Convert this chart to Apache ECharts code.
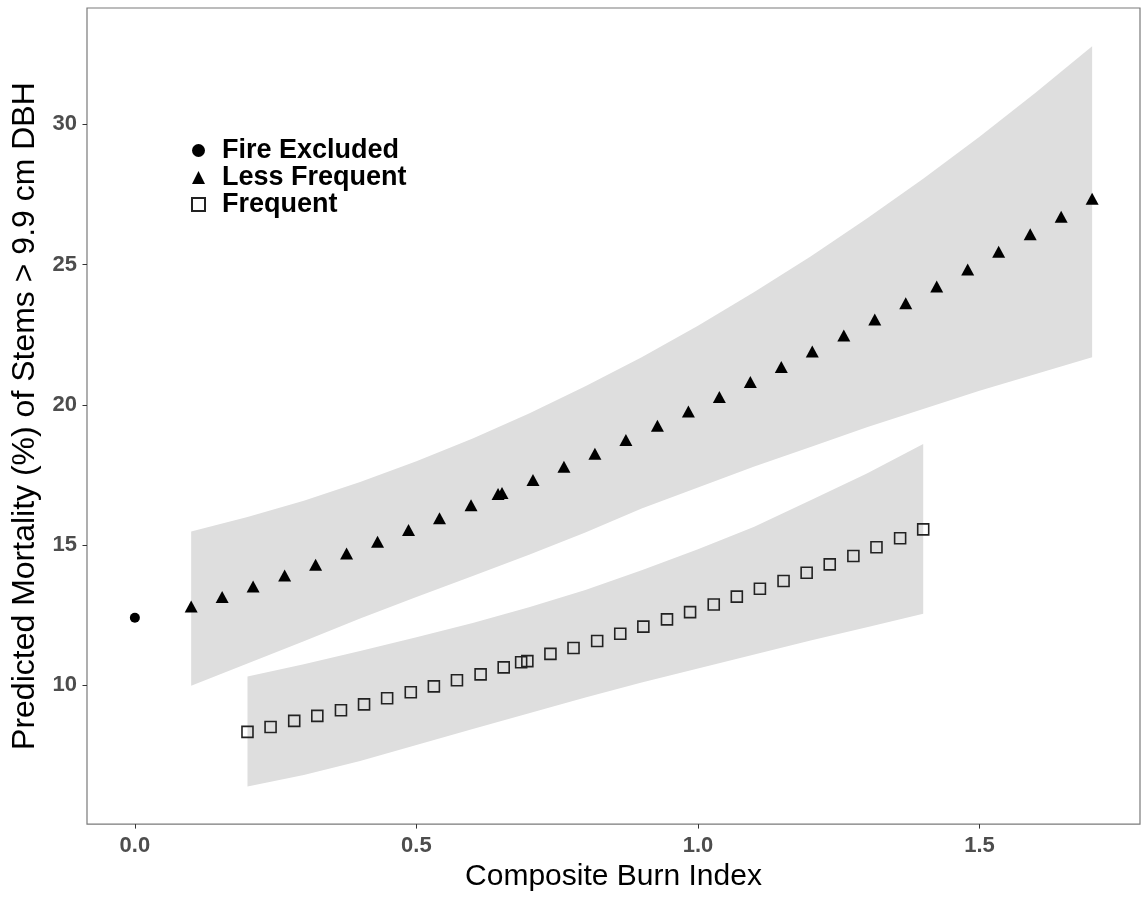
<!DOCTYPE html>
<html><head><meta charset="utf-8">
<script src="https://cdn.jsdelivr.net/npm/echarts@6/dist/echarts.min.js"></script>
<style>html,body{margin:0;padding:0;background:#fff}#c{width:1141px;height:897px}</style>
</head><body><div id="c"></div>
<script>
// ---- data ----
const seriesNames = ['Fire Excluded', 'Less Frequent', 'Frequent'];
const xTicks = [0, 0.5, 1.0, 1.5];
const yTicks = [10, 15, 20, 25, 30];

const fireX = [0];
const fireY = [12.41];

const lessX = [0.100, 0.155, 0.210, 0.266, 0.321, 0.376, 0.431, 0.486, 0.541, 0.597,
               0.652, 0.707, 0.762, 0.817, 0.872, 0.928, 0.983, 1.038, 1.093, 1.148,
               1.203, 1.259, 1.314, 1.369, 1.424, 1.479, 1.534, 1.590, 1.645, 1.700, 0.645];
const lessY = [12.81, 13.15, 13.52, 13.91, 14.30, 14.70, 15.12, 15.54, 15.96, 16.42,
               16.86, 17.32, 17.79, 18.26, 18.75, 19.25, 19.76, 20.28, 20.81, 21.35,
               21.90, 22.47, 23.04, 23.62, 24.22, 24.83, 25.46, 26.08, 26.71, 27.35, 16.82];

const freqX = [0.200, 0.241, 0.283, 0.324, 0.366, 0.407, 0.448, 0.490, 0.531, 0.572,
               0.614, 0.655, 0.697, 0.738, 0.779, 0.821, 0.862, 0.903, 0.945, 0.986,
               1.028, 1.069, 1.110, 1.152, 1.193, 1.234, 1.276, 1.317, 1.359, 1.400, 0.686];
const freqY = [8.34, 8.51, 8.73, 8.91, 9.11, 9.32, 9.54, 9.75, 9.96, 10.18,
               10.39, 10.64, 10.86, 11.12, 11.33, 11.58, 11.84, 12.09, 12.35, 12.61,
               12.88, 13.16, 13.44, 13.72, 14.01, 14.31, 14.61, 14.92, 15.24, 15.56, 10.82];

const lessBandX = [0.1, 0.2, 0.3, 0.4, 0.5, 0.6, 0.7, 0.8, 0.9, 1.0, 1.1, 1.2, 1.3, 1.4, 1.5, 1.6, 1.7];
const lessLower = [9.98, 10.78, 11.57, 12.38, 13.15, 13.90, 14.65, 15.45, 16.30, 17.05, 17.80, 18.50, 19.20, 19.85, 20.50, 21.10, 21.70];
const lessUpper = [15.48, 16.00, 16.58, 17.25, 17.99, 18.80, 19.69, 20.66, 21.70, 22.82, 24.02, 25.29, 26.64, 28.06, 29.56, 31.14, 32.79];

const freqBandX = [0.2, 0.3, 0.4, 0.5, 0.6, 0.7, 0.8, 0.9, 1.0, 1.1, 1.2, 1.3, 1.4];
const freqLower = [6.39, 6.80, 7.30, 7.87, 8.44, 9.00, 9.56, 10.10, 10.60, 11.10, 11.60, 12.07, 12.55];
const freqUpper = [10.31, 10.75, 11.22, 11.71, 12.22, 12.78, 13.40, 14.10, 14.85, 15.65, 16.60, 17.55, 18.60];

// ---- chart ----
const FONT = "'Liberation Sans', Arial, sans-serif";
const zip = (xs, ys) => xs.map((x, i) => [x, ys[i]]);

function bandSeries(xs, lo, hi) {
  return {
    type: 'custom',
    silent: true,
    z: 1,
    data: xs.map((x, i) => [x, lo[i], hi[i]]),
    renderItem: function (params, api) {
      if (params.dataIndex !== 0) return null;
      const pts = [];
      for (let i = 0; i < xs.length; i++) pts.push(api.coord([xs[i], hi[i]]));
      for (let i = xs.length - 1; i >= 0; i--) pts.push(api.coord([xs[i], lo[i]]));
      return { type: 'polygon', shape: { points: pts }, style: { fill: '#dedede', stroke: null } };
    }
  };
}

const chart = echarts.init(document.getElementById('c'), null, { renderer: 'canvas' });
chart.setOption({
  backgroundColor: '#fff',
  animation: false,
  textStyle: { fontFamily: FONT },
  grid: { left: 87, right: 1, top: 8, bottom: 72, show: true, borderColor: '#7a7a7a', borderWidth: 1.2, backgroundColor: 'transparent' },
  legend: {
    orient: 'vertical', left: 191, top: 137, padding: 0, itemGap: 0,
    itemWidth: 13, itemHeight: 13,
    data: seriesNames,
    textStyle: { fontSize: 27, fontWeight: 'bold', color: '#000', fontFamily: FONT, padding: [0, 0, 0, 12] }
  },
  xAxis: {
    type: 'value', min: -0.085, max: 1.785,
    name: 'Composite Burn Index', nameLocation: 'middle', nameGap: 37,
    nameTextStyle: { fontSize: 30, color: '#000', fontFamily: FONT },
    axisLine: { show: false, onZero: false },
    splitLine: { show: false },
    axisTick: { show: true, length: 4.5, customValues: xTicks, lineStyle: { color: '#333' } },
    axisLabel: { customValues: xTicks, margin: 11, fontSize: 22, fontWeight: 'bold', color: '#4d4d4d', fontFamily: FONT,
      formatter: v => v.toFixed(1) }
  },
  yAxis: {
    type: 'value', min: 5.05, max: 34.15,
    name: 'Predicted Mortality (%) of Stems > 9.9 cm DBH', nameLocation: 'middle', nameGap: 40,
    nameTextStyle: { fontSize: 32, color: '#000', fontFamily: FONT },
    axisLine: { show: false, onZero: false },
    splitLine: { show: false },
    axisTick: { show: true, length: 4.5, customValues: yTicks, lineStyle: { color: '#333' } },
    axisLabel: { customValues: yTicks, margin: 10, fontSize: 22, fontWeight: 'bold', color: '#4d4d4d', fontFamily: FONT }
  },
  series: [
    bandSeries(lessBandX, lessLower, lessUpper),
    bandSeries(freqBandX, freqLower, freqUpper),
    { name: 'Fire Excluded', type: 'scatter', z: 3, symbol: 'circle', symbolSize: 10,
      itemStyle: { color: '#000', opacity: 1 }, data: zip(fireX, fireY) },
    { name: 'Less Frequent', type: 'scatter', z: 3, symbol: 'triangle', symbolSize: [13, 12],
      itemStyle: { color: '#000', opacity: 1 }, data: zip(lessX, lessY) },
    { name: 'Frequent', type: 'scatter', z: 3, symbol: 'rect', symbolSize: 11,
      itemStyle: { color: 'rgba(0,0,0,0)', borderColor: '#222', borderWidth: 1.6, opacity: 1 }, data: zip(freqX, freqY) }
  ]
});
</script>
</body></html>
